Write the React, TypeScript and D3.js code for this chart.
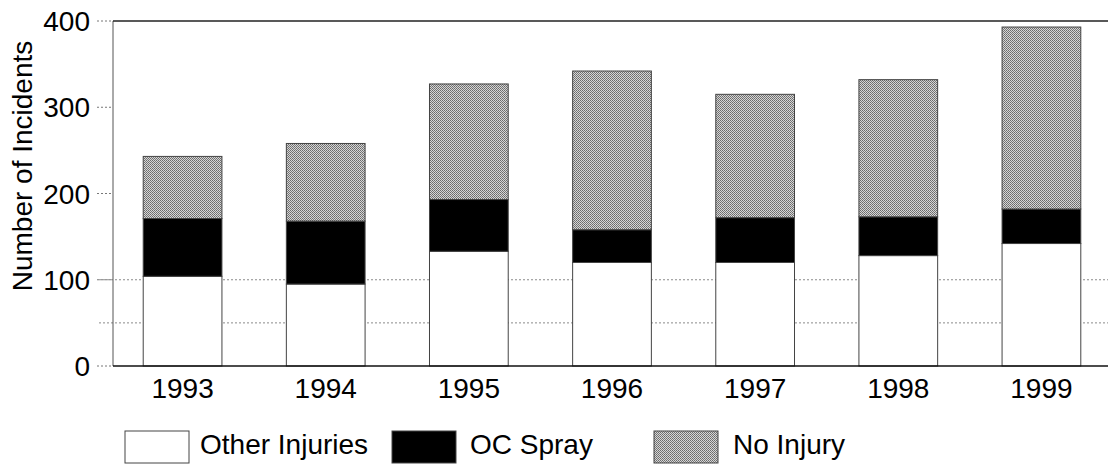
import * as d3 from 'd3'
import { useEffect, useRef } from 'react'

const years = ['1993', '1994', '1995', '1996', '1997', '1998', '1999']
const otherInjuries = [104, 95, 133, 120, 120, 128, 142]
const ocSpray = [67, 73, 60, 38, 52, 45, 40]
const noInjury = [72, 90, 134, 184, 143, 159, 211]
const yTicks = [0, 100, 200, 300, 400]
const gridTicks = [50, 100]
const seriesNames = ['Other Injuries', 'OC Spray', 'No Injury']

const W = 1108
const H = 464
const FONT = '"Liberation Sans", Arial, Helvetica, sans-serif'

export default function App() {
  const ref = useRef<SVGSVGElement>(null)

  useEffect(() => {
    const svg = d3.select(ref.current)
    svg.selectAll('*').remove()

    // halftone-ish fill for the grey series
    const defs = svg.append('defs')
    const pat = defs.append('pattern')
      .attr('id', 'halftone')
      .attr('width', 2)
      .attr('height', 2)
      .attr('patternUnits', 'userSpaceOnUse')
    pat.append('rect').attr('width', 2).attr('height', 2).attr('fill', '#d6d6d6')
    pat.append('rect').attr('x', 0).attr('y', 0).attr('width', 1).attr('height', 1).attr('fill', '#6a6a6a')
    pat.append('rect').attr('x', 1).attr('y', 1).attr('width', 1).attr('height', 1).attr('fill', '#7a7a7a')

    const fills = ['#ffffff', '#000000', 'url(#halftone)']

    const x = d3.scaleBand<string>()
      .domain(years)
      .range([111, 1113])
      .paddingInner(0.45)
      .paddingOuter(0.225)

    const y = d3.scaleLinear().domain([0, 400]).range([366, 21])

    const left = 113
    const right = W

    // dotted gridlines
    svg.append('g').selectAll('line')
      .data(gridTicks)
      .join('line')
      .attr('x1', 99)
      .attr('x2', right)
      .attr('y1', d => y(d))
      .attr('y2', d => y(d))
      .attr('stroke', '#8a8a8a')
      .attr('stroke-width', 1)
      .attr('stroke-dasharray', '2,2')

    // short dotted ticks left of the axis
    svg.append('g').selectAll('line')
      .data(yTicks)
      .join('line')
      .attr('x1', 97)
      .attr('x2', left)
      .attr('y1', d => y(d))
      .attr('y2', d => y(d))
      .attr('stroke', '#777')
      .attr('stroke-dasharray', '2,2')

    // stacked bars
    const rows = years.map((yr, i) => ({
      year: yr,
      'Other Injuries': otherInjuries[i],
      'OC Spray': ocSpray[i],
      'No Injury': noInjury[i],
    }))
    const stack = d3.stack<any>().keys(seriesNames)(rows)

    svg.append('g').selectAll('g')
      .data(stack)
      .join('g')
      .attr('fill', (d, i) => fills[i])
      .selectAll('rect')
      .data(d => d)
      .join('rect')
      .attr('x', d => x(d.data.year)!)
      .attr('width', x.bandwidth())
      .attr('y', d => y(d[1]))
      .attr('height', d => y(d[0]) - y(d[1]))
      .attr('stroke', '#444')
      .attr('stroke-width', 1)

    // frame: left axis, top line, baseline
    svg.append('line')
      .attr('x1', left).attr('x2', left)
      .attr('y1', y(400)).attr('y2', y(0))
      .attr('stroke', '#555').attr('stroke-width', 1)
    svg.append('line')
      .attr('x1', left).attr('x2', right)
      .attr('y1', y(400)).attr('y2', y(400))
      .attr('stroke', '#222').attr('stroke-width', 1.5)
    svg.append('line')
      .attr('x1', left).attr('x2', right)
      .attr('y1', y(0)).attr('y2', y(0))
      .attr('stroke', '#111').attr('stroke-width', 1.5)

    // y tick labels
    svg.append('g').selectAll('text')
      .data(yTicks)
      .join('text')
      .attr('x', 90)
      .attr('y', d => y(d) + 10)
      .attr('text-anchor', 'end')
      .attr('font-family', FONT)
      .attr('font-size', 28)
      .attr('fill', '#000')
      .text(d => d)

    // y title
    svg.append('text')
      .attr('transform', `translate(32,166) rotate(-90)`)
      .attr('text-anchor', 'middle')
      .attr('font-family', FONT)
      .attr('font-size', 28)
      .attr('fill', '#000')
      .text('Number of Incidents')

    // x labels
    svg.append('g').selectAll('text')
      .data(years)
      .join('text')
      .attr('x', d => x(d)! + x.bandwidth() / 2)
      .attr('y', 398)
      .attr('text-anchor', 'middle')
      .attr('font-family', FONT)
      .attr('font-size', 28)
      .attr('fill', '#000')
      .text(d => d)

    // legend
    const legendBoxX = [125, 392, 654]
    const legendTextX = [200, 470, 733]
    const lg = svg.append('g').selectAll('g')
      .data(seriesNames)
      .join('g')
    lg.append('rect')
      .attr('x', (d, i) => legendBoxX[i])
      .attr('y', 431)
      .attr('width', 64)
      .attr('height', 32)
      .attr('fill', (d, i) => fills[i])
      .attr('stroke', '#444')
      .attr('stroke-width', 1)
    lg.append('text')
      .attr('x', (d, i) => legendTextX[i])
      .attr('y', 454)
      .attr('font-family', FONT)
      .attr('font-size', 28)
      .attr('fill', '#000')
      .text(d => d)
  }, [])

  return (
    <svg
      ref={ref}
      width={W}
      height={H}
      style={{ position: 'absolute', left: 0, top: 0, background: '#fff' }}
    />
  )
}
